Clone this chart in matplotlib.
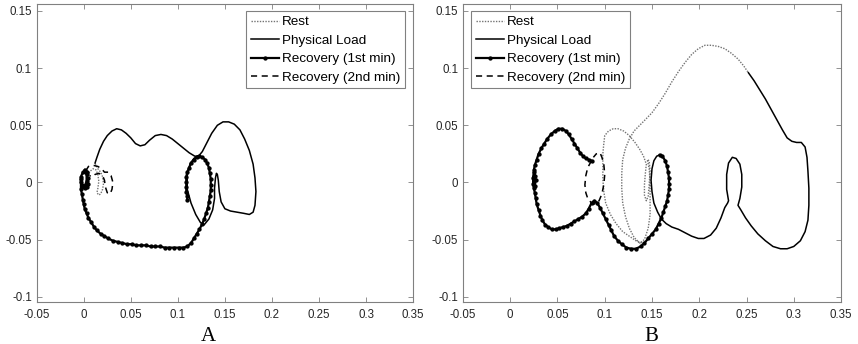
import numpy as np
import matplotlib
matplotlib.use("Agg")
import matplotlib.pyplot as plt

plt.rcParams['font.family'] = ['Liberation Sans', 'DejaVu Sans']

# ---- panel A ----
a_rest_x = [0.004, 0.007, 0.010, 0.013, 0.015, 0.016, 0.015, 0.014, 0.016, 0.018, 0.020, 0.021, 0.020, 0.018, 0.015, 0.013, 0.012]
a_rest_y = [0.006, 0.010, 0.012, 0.011, 0.007, 0.001, -0.005, -0.009, -0.011, -0.010, -0.006, -0.001, 0.005, 0.009, 0.012, 0.015, 0.017]

a_load_x = [0.012, 0.014, 0.017, 0.021, 0.025, 0.030, 0.035, 0.040, 0.045, 0.050, 0.055, 0.060, 0.065, 0.070, 0.076,
            0.082, 0.088, 0.094, 0.100, 0.106, 0.112, 0.118, 0.122, 0.126, 0.131, 0.136, 0.142, 0.148, 0.154, 0.160,
            0.166, 0.171, 0.176, 0.180, 0.182, 0.183, 0.182, 0.180, 0.176, 0.170, 0.163, 0.156, 0.150, 0.146, 0.144,
            0.143, 0.142, 0.141, 0.140, 0.139, 0.139, 0.137, 0.133, 0.128, 0.124, 0.119, 0.114, 0.110, 0.110, 0.113,
            0.117, 0.121]
a_load_y = [0.017, 0.022, 0.029, 0.036, 0.041, 0.045, 0.047, 0.046, 0.043, 0.039, 0.034, 0.032, 0.033, 0.037, 0.041,
            0.042, 0.041, 0.038, 0.034, 0.030, 0.026, 0.023, 0.023, 0.027, 0.035, 0.043, 0.050, 0.053, 0.053, 0.051,
            0.046, 0.038, 0.028, 0.016, 0.004, -0.008, -0.020, -0.026, -0.028, -0.027, -0.026, -0.025, -0.023, -0.017, -0.008,
            0.002, 0.007, 0.008, 0.004, -0.005, -0.014, -0.024, -0.032, -0.037, -0.035, -0.028, -0.018, -0.006, 0.006, 0.016,
            0.021, 0.023]

a_rec1_x = [0.001, 0.003, 0.004, 0.004, 0.003, 0.001, -0.002, -0.003, -0.003, -0.001, 0.001, 0.003, 0.003, 0.001, -0.002,
            -0.003, -0.003, -0.002, -0.001, 0.000, 0.001, 0.003, 0.005, 0.008, 0.011, 0.014, 0.018, 0.022, 0.026, 0.031,
            0.036, 0.041, 0.046, 0.051, 0.056, 0.061, 0.066, 0.071, 0.076, 0.081, 0.086, 0.091, 0.096, 0.101, 0.106,
            0.110, 0.114, 0.117, 0.120, 0.123, 0.126, 0.128, 0.130, 0.132, 0.133, 0.134, 0.135, 0.135, 0.135, 0.134,
            0.133, 0.131, 0.129, 0.126, 0.123, 0.120, 0.117, 0.114, 0.112, 0.110, 0.109, 0.109, 0.109, 0.109, 0.110, 0.110]
a_rec1_y = [0.011, 0.009, 0.004, -0.001, -0.004, -0.005, -0.004, 0.000, 0.005, 0.009, 0.010, 0.007, 0.001, -0.003, -0.002,
            0.003, -0.006, -0.010, -0.015, -0.019, -0.023, -0.027, -0.031, -0.035, -0.039, -0.042, -0.045, -0.047, -0.049, -0.051,
            -0.052, -0.053, -0.054, -0.054, -0.055, -0.055, -0.055, -0.056, -0.056, -0.056, -0.057, -0.057, -0.057, -0.057, -0.057,
            -0.056, -0.053, -0.049, -0.045, -0.041, -0.036, -0.032, -0.027, -0.022, -0.017, -0.012, -0.007, -0.002, 0.003, 0.008,
            0.013, 0.017, 0.020, 0.022, 0.023, 0.022, 0.020, 0.017, 0.013, 0.009, 0.005, 0.000, -0.004, -0.008, -0.012, -0.015]

a_rec2_x = [0.002, 0.005, 0.010, 0.015, 0.019, 0.022, 0.026, 0.029, 0.031, 0.030, 0.028, 0.025, 0.023, 0.022, 0.020, 0.016, 0.012, 0.009, 0.006]
a_rec2_y = [0.010, 0.014, 0.015, 0.014, 0.012, 0.009, 0.009, 0.006, 0.000, -0.006, -0.010, -0.009, -0.004, 0.002, 0.006, 0.008, 0.007, 0.005, 0.006]

# ---- panel B ----
b_rest_x = [0.139, 0.133, 0.126, 0.119, 0.112, 0.106, 0.101, 0.099, 0.098, 0.098, 0.098, 0.099, 0.100, 0.104, 0.109,
            0.114, 0.120, 0.126, 0.132, 0.137, 0.141, 0.144, 0.143, 0.142, 0.142, 0.144, 0.146, 0.147, 0.148, 0.147,
            0.145, 0.147, 0.148, 0.148, 0.148, 0.146, 0.142, 0.137, 0.131, 0.126, 0.122, 0.119, 0.118, 0.118, 0.119,
            0.122, 0.126, 0.131, 0.137, 0.143, 0.150, 0.157, 0.164, 0.171, 0.178, 0.185, 0.192, 0.199, 0.206, 0.213,
            0.220, 0.227, 0.234, 0.241, 0.247, 0.252]
b_rest_y = [-0.053, -0.051, -0.047, -0.043, -0.036, -0.028, -0.018, -0.008, 0.003, 0.014, 0.025, 0.034, 0.041, 0.045, 0.047,
            0.047, 0.045, 0.041, 0.035, 0.029, 0.023, 0.016, 0.008, -0.002, -0.011, -0.016, -0.012, -0.002, 0.010, 0.019,
            0.020, 0.012, 0.000, -0.015, -0.028, -0.040, -0.050, -0.053, -0.048, -0.040, -0.030, -0.018, -0.005, 0.008, 0.020,
            0.030, 0.038, 0.045, 0.050, 0.055, 0.061, 0.069, 0.078, 0.088, 0.097, 0.105, 0.112, 0.117, 0.120, 0.120,
            0.119, 0.117, 0.113, 0.108, 0.102, 0.096]

b_load_x = [0.252, 0.258, 0.264, 0.270, 0.276, 0.282, 0.288, 0.293, 0.298, 0.303, 0.308, 0.312, 0.314, 0.315, 0.316,
            0.316, 0.315, 0.312, 0.307, 0.300, 0.293, 0.286, 0.278, 0.270, 0.262, 0.255, 0.249, 0.244, 0.241, 0.243,
            0.245, 0.245, 0.243, 0.239, 0.235, 0.231, 0.229, 0.229, 0.231, 0.230, 0.227, 0.223, 0.218, 0.212, 0.205,
            0.199, 0.192, 0.185, 0.178, 0.171, 0.165, 0.160, 0.156, 0.152, 0.150, 0.149, 0.150, 0.152, 0.155, 0.158]
b_load_y = [0.096, 0.089, 0.081, 0.073, 0.064, 0.055, 0.046, 0.039, 0.036, 0.035, 0.035, 0.031, 0.022, 0.010, -0.005,
            -0.020, -0.033, -0.043, -0.051, -0.056, -0.058, -0.058, -0.056, -0.051, -0.045, -0.038, -0.031, -0.024, -0.020, -0.014,
            -0.004, 0.007, 0.016, 0.021, 0.022, 0.017, 0.007, -0.006, -0.016, -0.018, -0.022, -0.031, -0.040, -0.046, -0.049,
            -0.049, -0.047, -0.044, -0.041, -0.039, -0.036, -0.032, -0.026, -0.018, -0.008, 0.002, 0.012, 0.019, 0.023, 0.024]

b_rec1_x = [0.158, 0.161, 0.164, 0.166, 0.167, 0.168, 0.168, 0.168, 0.167, 0.166, 0.164, 0.162, 0.160, 0.157, 0.154,
            0.150, 0.146, 0.142, 0.138, 0.133, 0.128, 0.123, 0.118, 0.114, 0.110, 0.107, 0.104, 0.101, 0.098, 0.095,
            0.092, 0.089, 0.086, 0.083, 0.080, 0.076, 0.072, 0.068, 0.064, 0.060, 0.056, 0.052, 0.048, 0.044, 0.040,
            0.037, 0.034, 0.032, 0.030, 0.028, 0.027, 0.026, 0.025, 0.024, 0.025, 0.026, 0.025, 0.024, 0.026, 0.027,
            0.025, 0.026, 0.028, 0.030, 0.033, 0.036, 0.039, 0.043, 0.047, 0.051, 0.055, 0.059, 0.062, 0.065, 0.068,
            0.071, 0.074, 0.077, 0.080, 0.083, 0.086]
b_rec1_y = [0.024, 0.023, 0.019, 0.014, 0.009, 0.004, -0.001, -0.006, -0.011, -0.016, -0.021, -0.026, -0.031, -0.036, -0.041,
            -0.045, -0.049, -0.053, -0.056, -0.058, -0.058, -0.057, -0.054, -0.051, -0.047, -0.042, -0.037, -0.032, -0.027, -0.022,
            -0.018, -0.016, -0.018, -0.023, -0.027, -0.030, -0.032, -0.034, -0.036, -0.038, -0.039, -0.040, -0.041, -0.041, -0.039,
            -0.037, -0.033, -0.029, -0.024, -0.019, -0.014, -0.009, -0.005, -0.001, 0.003, 0.006, 0.009, 0.004, -0.003, 0.002,
            0.011, 0.015, 0.020, 0.025, 0.030, 0.034, 0.038, 0.042, 0.045, 0.047, 0.047, 0.045, 0.042, 0.038, 0.034,
            0.030, 0.026, 0.023, 0.021, 0.020, 0.019]

b_rec2_x = [0.086, 0.082, 0.080, 0.079, 0.080, 0.082, 0.086, 0.090, 0.094, 0.097, 0.099, 0.100, 0.099, 0.097, 0.095, 0.091, 0.088]
b_rec2_y = [0.019, 0.013, 0.006, -0.002, -0.009, -0.014, -0.018, -0.019, -0.016, -0.010, -0.002, 0.007, 0.016, 0.022, 0.026, 0.025, 0.022]

labels = ['Rest', 'Physical Load', 'Recovery (1st min)', 'Recovery (2nd min)']
x_ticks = [-0.05, 0, 0.05, 0.1, 0.15, 0.2, 0.25, 0.3, 0.35]
y_ticks = [-0.1, -0.05, 0, 0.05, 0.1, 0.15]

fig = plt.figure(figsize=(8.58, 3.44), dpi=100)
axA = fig.add_axes([0.0428, 0.122, 0.4386, 0.866])
axB = fig.add_axes([0.5396, 0.122, 0.4406, 0.866])


def draw(ax, rest, load, rec1, rec2, loc, anchor):
    ax.plot(rest[0], rest[1], color='0.45', lw=1.0, ls=(0, (1, 1)), label=labels[0])
    ax.plot(load[0], load[1], color='black', lw=1.1, label=labels[1])
    ax.plot(rec1[0], rec1[1], color='black', lw=1.6, marker='o', ms=2.1, label=labels[2])
    ax.plot(rec2[0], rec2[1], color='black', lw=1.1, ls=(0, (4, 3)), label=labels[3])
    ax.set_xlim(-0.05, 0.35)
    ax.set_ylim(-0.1046, 0.156)
    ax.set_xticks(x_ticks)
    ax.set_xticklabels(['-0.05', '0', '0.05', '0.1', '0.15', '0.2', '0.25', '0.3', '0.35'])
    ax.set_yticks(y_ticks)
    ax.set_yticklabels(['-0.1', '-0.05', '0', '0.05', '0.1', '0.15'])
    ax.tick_params(direction='in', length=3.5, width=0.6, color='0.5', labelsize=8.3,
                   labelcolor='0.15', top=True, right=True)
    ax.tick_params(axis='x', pad=5)
    ax.tick_params(axis='y', pad=3.5)
    for s in ax.spines.values():
        s.set_color('0.5')
        s.set_linewidth(0.8)
    leg = ax.legend(loc=loc, bbox_to_anchor=anchor, fontsize=9.7, frameon=True, fancybox=False,
                    edgecolor='0.5', framealpha=1, borderpad=0.35, labelspacing=0.45,
                    handlelength=2.1, handletextpad=0.2, borderaxespad=0)
    leg.get_frame().set_linewidth(0.8)


draw(axA, (a_rest_x, a_rest_y), (a_load_x, a_load_y), (a_rec1_x, a_rec1_y), (a_rec2_x, a_rec2_y),
     'upper right', (0.979, 0.9765))
draw(axB, (b_rest_x, b_rest_y), (b_load_x, b_load_y), (b_rec1_x, b_rec1_y), (b_rec2_x, b_rec2_y),
     'upper left', (0.021, 0.9765))

fig.text(0.2424, 0.01, 'A', family='Liberation Serif', fontsize=15, ha='center', va='baseline')
fig.text(0.7587, 0.01, 'B', family='Liberation Serif', fontsize=15, ha='center', va='baseline')

fig.savefig('out.png', dpi=100)
